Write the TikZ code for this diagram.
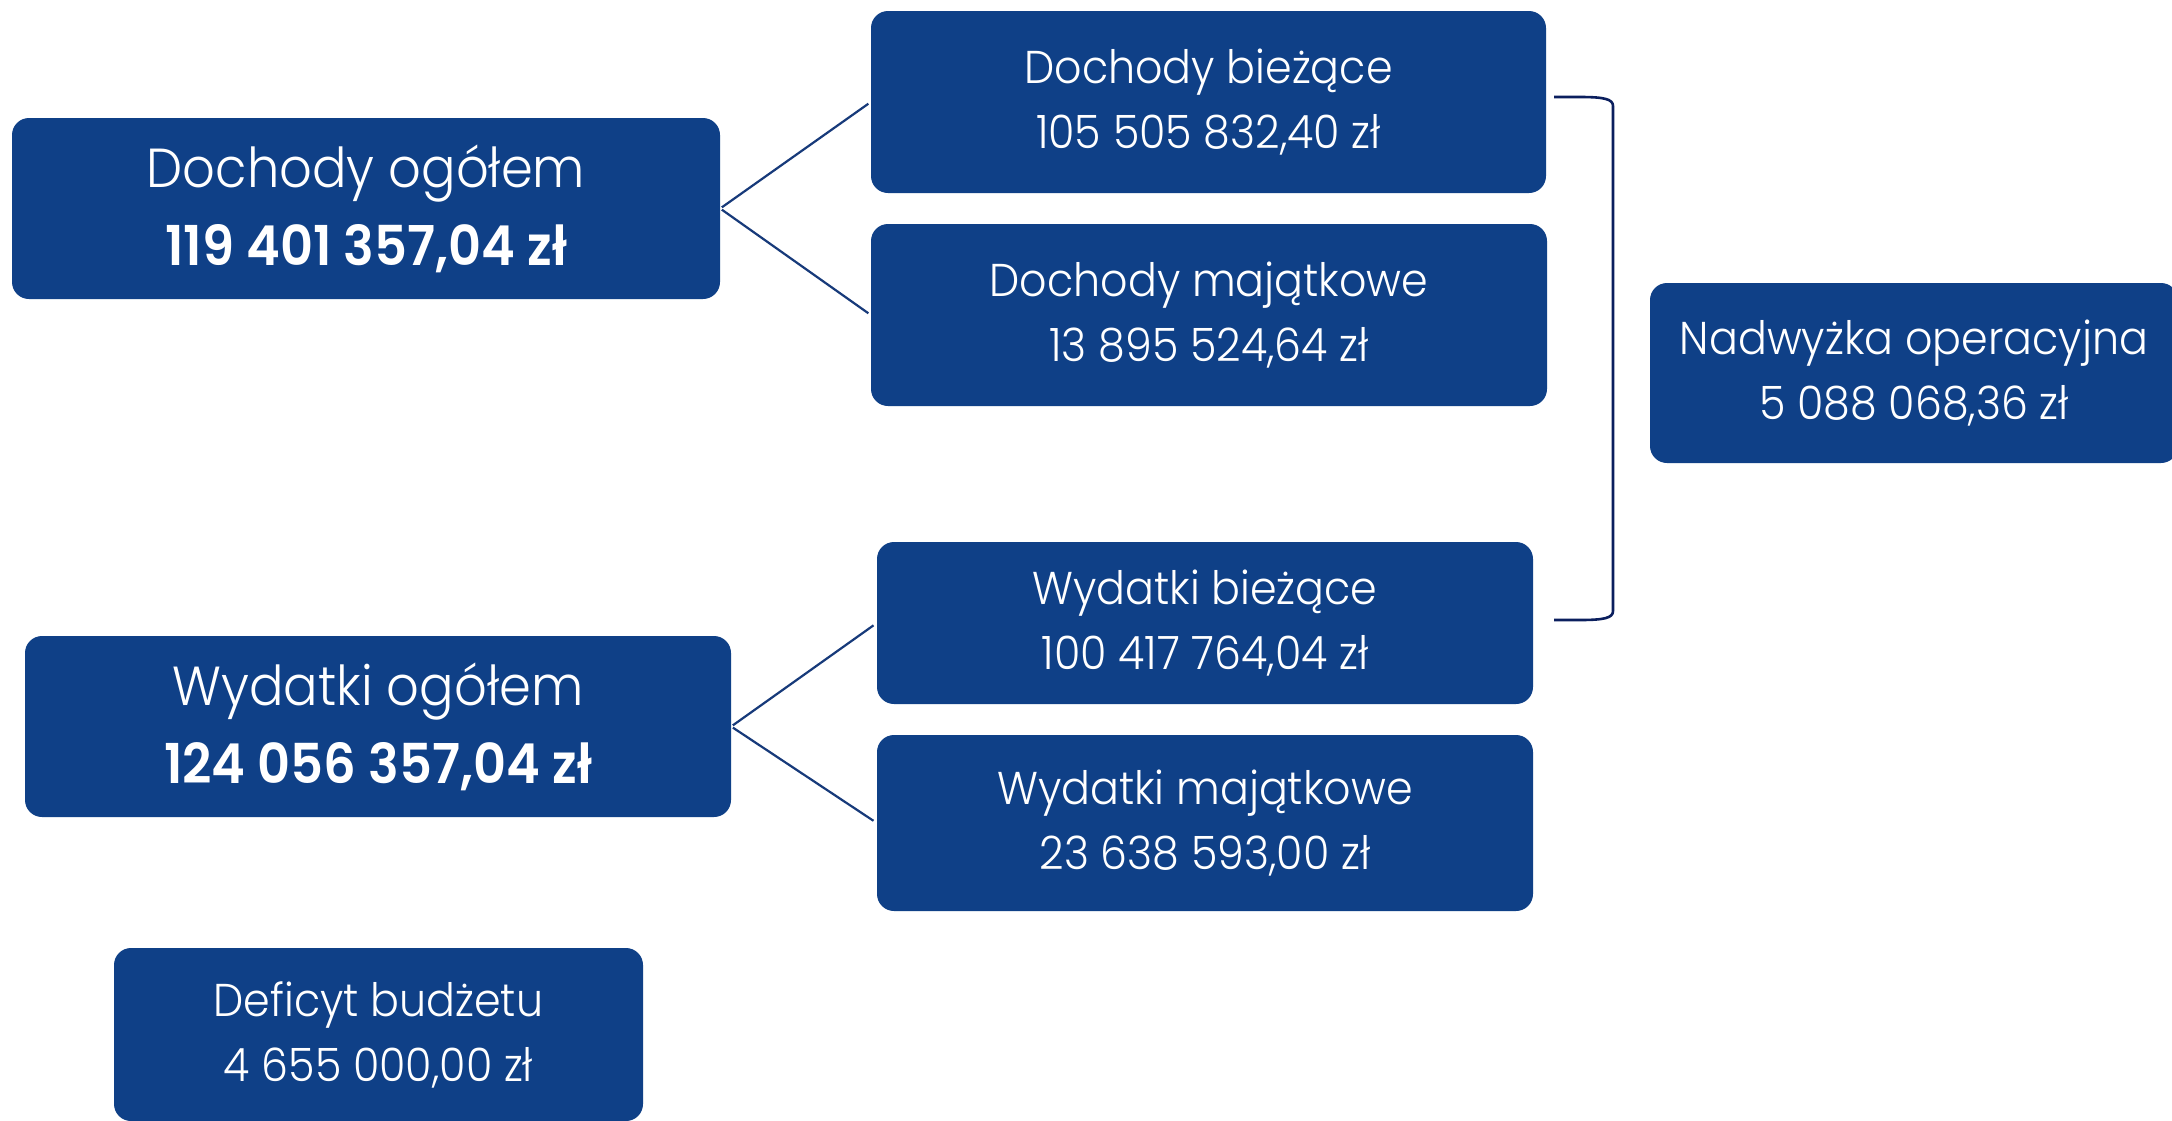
\documentclass[tikz,border=0pt]{standalone}
\usepackage{fontspec}
\setmainfont{Poppins}[UprightFont=* Light, BoldFont=* SemiBold, FakeStretch=0.93]
\usetikzlibrary{calc}
\definecolor{boxblue}{HTML}{0F4087}
\definecolor{linkblue}{HTML}{173A7A}
\definecolor{brackblue}{HTML}{0B1F5E}
\tikzset{
  box/.style={fill=boxblue, rounded corners=17pt, text=white, align=center, inner sep=0pt},
  bigtext/.style={font=\fontsize{55}{78}\selectfont},
  smalltext/.style={font=\fontsize{46}{65}\selectfont},
  link/.style={draw=linkblue, line width=2.2pt},
  brack/.style={draw=brackblue, line width=2.6pt}
}
\begin{document}
\begin{tikzpicture}[x=1pt,y=-1pt]
\useasboundingbox (0,0) rectangle (2172,1120);
\fill[white] (0,0) rectangle (2172,1120);

\node[box, bigtext, minimum width=708pt, minimum height=181pt] (dog) at (366,208.5)
  {Dochody ogółem\\\textbf{119 401 357,04 zł}};
\node[box, smalltext, minimum width=675pt, minimum height=182pt] (dbz) at (1208.5,102)
  {Dochody bieżące\\105 505 832,40 zł};
\node[box, smalltext, minimum width=676pt, minimum height=182pt] (dmj) at (1209,315)
  {Dochody majątkowe\\13 895 524,64 zł};
\node[box, smalltext, minimum width=528pt, minimum height=180pt] (nad) at (1914,373)
  {Nadwyżka operacyjna\\5 088 068,36 zł};
\node[box, smalltext, minimum width=656pt, minimum height=162pt] (wbz) at (1205,623)
  {Wydatki bieżące\\100 417 764,04 zł};
\node[box, bigtext, minimum width=706pt, minimum height=181pt] (wog) at (378,726.5)
  {Wydatki ogółem\\\textbf{124 056 357,04 zł}};
\node[box, smalltext, minimum width=656pt, minimum height=176pt] (wmj) at (1205,823)
  {Wydatki majątkowe\\23 638 593,00 zł};
\node[box, smalltext, minimum width=529pt, minimum height=173pt] (def) at (378.5,1034.5)
  {Deficyt budżetu\\4 655 000,00 zł};

\draw[link, shorten <=2pt, shorten >=3pt] (dog.east) -- (dbz.west);
\draw[link, shorten <=2pt, shorten >=3pt] (dog.east) -- (dmj.west);
\draw[link, shorten <=2pt, shorten >=4pt] (wog.east) -- (wbz.west);
\draw[link, shorten <=2pt, shorten >=4pt] (wog.east) -- (wmj.west);

\coordinate (bt) at (1554,97);
\coordinate (bb) at (1554,620);
\draw[brack] (bt) -- (1580,97) .. controls (1604,97) and (1613,99) .. (1613,106)
  -- (1613,611) .. controls (1613,618) and (1604,620) .. (1580,620) -- (bb);
\end{tikzpicture}
\end{document}
